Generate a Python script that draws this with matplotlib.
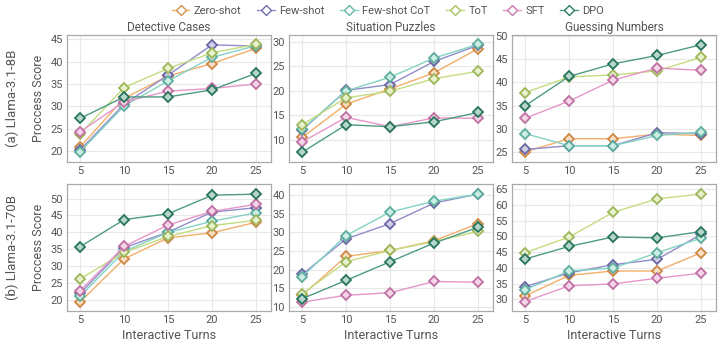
import matplotlib.pyplot as plt
import matplotlib.colors as mcolors
from matplotlib.lines import Line2D

turns = [5, 10, 15, 20, 25]
methods = ["Zero-shot", "Few-shot", "Few-shot CoT", "ToT", "SFT", "DPO"]
colors = ["#f0a050", "#7b78c0", "#6dcbb8", "#b9d66a", "#e184c0", "#2e8a6c"]
tasks = ["Detective Cases", "Situation Puzzles", "Guessing Numbers"]
models = ["(a) Llama-3.1-8B", "(b) Llama-3.1-70B"]

# Llama-3.1-8B
dc_8b = {
    "Zero-shot": [20.9, 31.8, 36.8, 39.6, 43.0],
    "Few-shot": [20.2, 30.5, 37.0, 43.8, 43.5],
    "Few-shot CoT": [19.8, 30.1, 35.7, 41.0, 43.6],
    "ToT": [23.8, 34.2, 38.5, 42.0, 43.9],
    "SFT": [24.3, 31.0, 33.4, 34.0, 35.0],
    "DPO": [27.3, 32.1, 32.1, 33.7, 37.4],
}
sp_8b = {
    "Zero-shot": [10.5, 17.3, 20.4, 23.7, 28.6],
    "Few-shot": [12.0, 20.1, 21.3, 26.0, 29.3],
    "Few-shot CoT": [12.2, 20.0, 22.8, 26.7, 29.5],
    "ToT": [13.1, 18.6, 19.9, 22.5, 24.0],
    "SFT": [9.6, 14.6, 12.7, 14.5, 14.4],
    "DPO": [7.5, 13.1, 12.7, 13.7, 15.6],
}
gn_8b = {
    "Zero-shot": [25.1, 27.9, 27.9, 28.9, 28.6],
    "Few-shot": [25.6, 26.4, 26.4, 29.2, 29.0],
    "Few-shot CoT": [29.0, 26.4, 26.4, 28.6, 29.3],
    "ToT": [37.8, 41.2, 41.6, 42.5, 45.4],
    "SFT": [32.3, 36.0, 40.5, 43.1, 42.6],
    "DPO": [35.0, 41.3, 44.0, 45.8, 48.1],
}

# Llama-3.1-70B
dc_70b = {
    "Zero-shot": [19.5, 32.2, 38.4, 39.9, 43.0],
    "Few-shot": [22.0, 35.5, 40.1, 46.0, 47.3],
    "Few-shot CoT": [21.2, 34.4, 40.0, 43.3, 45.8],
    "ToT": [26.3, 34.1, 38.8, 42.0, 43.6],
    "SFT": [22.8, 35.9, 42.2, 46.2, 48.3],
    "DPO": [35.8, 43.8, 45.5, 51.0, 51.3],
}
sp_70b = {
    "Zero-shot": [13.1, 23.5, 25.1, 27.7, 32.3],
    "Few-shot": [18.7, 28.2, 32.3, 37.8, 40.2],
    "Few-shot CoT": [18.1, 29.1, 35.4, 38.3, 40.2],
    "ToT": [13.5, 22.1, 25.1, 27.5, 30.2],
    "SFT": [11.3, 13.1, 13.8, 16.8, 16.6],
    "DPO": [12.2, 17.1, 22.1, 27.1, 31.3],
}
gn_70b = {
    "Zero-shot": [31.1, 37.6, 39.0, 39.0, 44.8],
    "Few-shot": [34.0, 38.4, 41.0, 42.7, 50.6],
    "Few-shot CoT": [33.1, 39.0, 39.9, 44.8, 49.4],
    "ToT": [44.8, 49.8, 57.6, 61.9, 63.4],
    "SFT": [29.3, 34.3, 34.9, 36.7, 38.3],
    "DPO": [42.8, 46.8, 49.8, 49.5, 51.5],
}

panels = [[dc_8b, sp_8b, gn_8b], [dc_70b, sp_70b, gn_70b]]
ylims = [[(17.5, 46), (5.5, 31.4), (22.9, 50.2)],
         [(16.8, 54.3), (8.9, 42.9), (26.3, 66.6)]]
yticks = [[range(20, 46, 5), range(10, 31, 5), range(25, 51, 5)],
          [range(20, 51, 5), range(10, 41, 5), range(30, 66, 5)]]


def tint(col, amount):
    # mix a colour with white
    rgb = mcolors.to_rgb(col)
    return tuple(1 - (1 - v) * amount for v in rgb)


def shade(col, amount):
    rgb = mcolors.to_rgb(col)
    return tuple(v * amount for v in rgb)


plt.rcParams['font.family'] = ['Roboto', 'DejaVu Sans']
text_c = "#555555"

fig = plt.figure(figsize=(7.2, 3.45), dpi=100)
lefts = [67 / 720, 289 / 720, 512 / 720]
width = 204 / 720
bottoms = [1 - 162 / 345, 1 - 311 / 345]
height = 127 / 345

for r in range(2):
    for c in range(3):
        ax = fig.add_axes([lefts[c], bottoms[r], width, height])
        data = panels[r][c]
        for m, col in zip(methods, colors):
            ax.plot(turns, data[m], color=tint(col, 0.85), lw=1.0,
                    marker="D", ms=5.5, mfc=tint(col, 0.35),
                    mec=shade(col, 0.85), mew=1.3, zorder=3)
        ax.set_xlim(3.5, 26.7)
        ax.set_ylim(*ylims[r][c])
        ax.set_xticks(turns)
        ax.set_yticks(list(yticks[r][c]))
        ax.grid(True, color="#e8e8e8", lw=0.8)
        ax.set_axisbelow(True)
        ax.tick_params(length=0, labelsize=8, colors=text_c, pad=3)
        for s in ax.spines.values():
            s.set_color("#aaaaaa")
            s.set_linewidth(0.9)
        if r == 0:
            ax.set_title(tasks[c], fontsize=8.5, color=text_c, pad=3)
        else:
            ax.set_xlabel("Interactive Turns", fontsize=9, color=text_c,
                          labelpad=3)
        if c == 0:
            ax.set_ylabel("Proccess Score", fontsize=9, color=text_c,
                          labelpad=4)

for r, label in enumerate(models):
    fig.text(12 / 720, bottoms[r] + height / 2, label, rotation=90,
             ha="center", va="center", fontsize=9.5, color=text_c)

handles = [Line2D([0], [0], color=tint(col, 0.85), lw=1.0, marker="D", ms=5,
                  mfc="white", mec=shade(col, 0.9), mew=1.0) for col in colors]
fig.legend(handles, methods, loc="center", bbox_to_anchor=(388 / 720, 1 - 11 / 345),
           ncol=6, frameon=False, fontsize=8, handlelength=1.6,
           columnspacing=1.4, handletextpad=0.4, labelcolor=text_c)

fig.savefig("out.png", dpi=100)
